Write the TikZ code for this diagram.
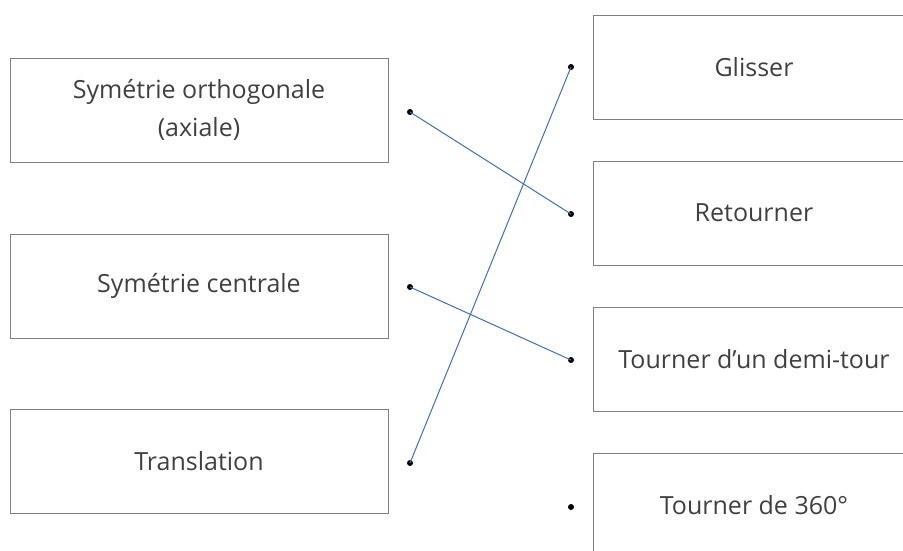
\documentclass[tikz,border=0pt]{standalone}
\usepackage{fontspec}
\setmainfont{Open Sans}
\begin{document}
\begin{tikzpicture}[x=1pt,y=-1pt,
  box/.style={draw=black!50,line width=1pt,minimum height=104pt,text=black!75,font=\fontsize{25}{38}\selectfont,align=center,inner sep=0pt},
  lbox/.style={box,minimum width=378pt},
  rbox/.style={box,minimum width=322pt},
  pt/.style={circle,fill=black,inner sep=0pt,minimum size=6pt},
  link/.style={draw={rgb,255:red,60;green,110;blue,200},line width=1pt}]
\useasboundingbox (0,0) rectangle (903,550);
\node[lbox] (l1) at (199,110) {Symétrie orthogonale\\(axiale)};
\node[lbox] (l2) at (199,286) {Symétrie centrale};
\node[lbox] (l3) at (199,461) {Translation};
\node[rbox] (r1) at (754,67) {Glisser};
\node[rbox] (r2) at (754,213) {Retourner};
\node[rbox] (r3) at (754,359) {Tourner d’un demi-tour};
\node[rbox] (r4) at (754,505) {Tourner de 360°};
\node[pt] (a1) at (410,112) {};
\node[pt] (a2) at (410,287) {};
\node[pt] (a3) at (410,463) {};
\node[pt] (b1) at (571,67) {};
\node[pt] (b2) at (571,214) {};
\node[pt] (b3) at (571,360) {};
\node[pt] (b4) at (571,507) {};
\draw[link] (a1.center) -- (b2.center);
\draw[link] (a2.center) -- (b3.center);
\draw[link] (a3.center) -- (b1.center);
\end{tikzpicture}
\end{document}
